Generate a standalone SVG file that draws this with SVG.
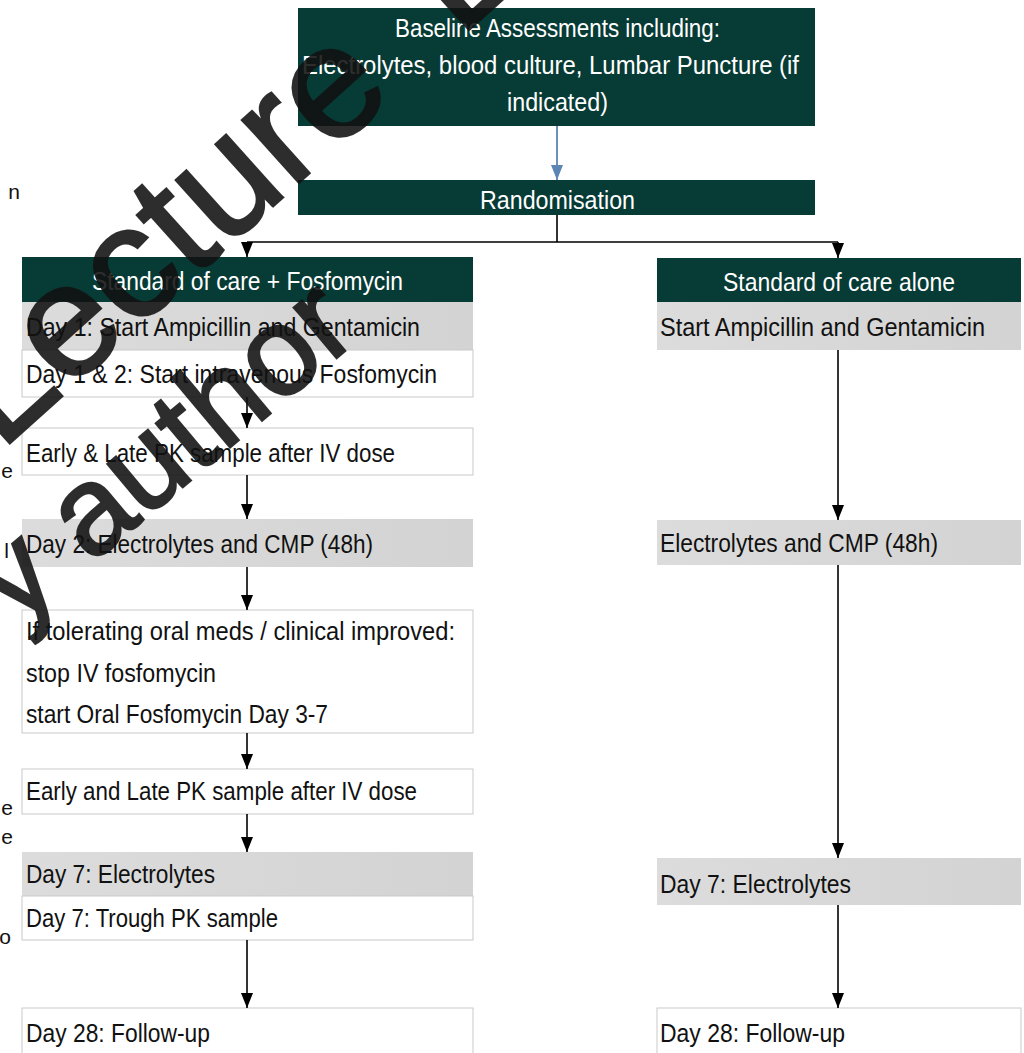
<svg xmlns="http://www.w3.org/2000/svg" width="1024" height="1053" viewBox="0 0 1024 1053">
<defs>
<style>
.dark{fill:#073b35;}
.grey{fill:url(#g);}
.white{fill:#ffffff;stroke:#c9c9c9;stroke-width:1;}
.t{font-family:"Liberation Sans",Arial,sans-serif;font-size:26px;fill:#111111;}
.tw{font-family:"Liberation Sans",Arial,sans-serif;font-size:26px;fill:#ffffff;}
.edge{font-family:"Liberation Sans",Arial,sans-serif;font-size:21px;fill:#111111;}
.conn{stroke:#000000;stroke-width:1.6;fill:none;}
.wm{font-family:"Liberation Sans",Arial,sans-serif;fill:#111111;stroke:#111111;stroke-width:2.5;opacity:0.88;}
</style>
<linearGradient id="g" x1="0" y1="0" x2="1" y2="0">
<stop offset="0" stop-color="#dcdcdc"/>
<stop offset="1" stop-color="#d3d3d3"/>
</linearGradient>
<marker id="arr" markerUnits="userSpaceOnUse" markerWidth="15" markerHeight="12" refX="15" refY="6" orient="auto" viewBox="0 0 15 12">
<path d="M0,0 L15,6 L0,12 Z" fill="#000000"/>
</marker>
<marker id="arrb" markerUnits="userSpaceOnUse" markerWidth="15" markerHeight="12" refX="15" refY="6" orient="auto" viewBox="0 0 15 12">
<path d="M0,0 L15,6 L0,12 Z" fill="#5b86b4"/>
</marker>
</defs>
<rect x="0" y="0" width="1024" height="1053" fill="#ffffff"/>

<g id="edge-fragments">
<text class="edge" x="20" y="199" text-anchor="end">n</text>
<text class="edge" x="13" y="478" text-anchor="end">e</text>
<text class="edge" x="9" y="558" text-anchor="end">l</text>
<text class="edge" x="13" y="815" text-anchor="end">e</text>
<text class="edge" x="13" y="844" text-anchor="end">e</text>
<text class="edge" x="11" y="944" text-anchor="end">o</text>
</g>

<g id="baseline">
<rect class="dark" x="298" y="8" width="517" height="118"/>
<text class="tw" x="395" y="37" textLength="325" lengthAdjust="spacingAndGlyphs">Baseline Assessments including:</text>
<text class="tw" x="302" y="74" textLength="497" lengthAdjust="spacingAndGlyphs">Electrolytes, blood culture, Lumbar Puncture (if</text>
<text class="tw" x="507" y="111" textLength="101" lengthAdjust="spacingAndGlyphs">indicated)</text>
</g>

<g id="randomisation">
<rect class="dark" x="298" y="180" width="517" height="35"/>
<text class="tw" x="480" y="209" textLength="155" lengthAdjust="spacingAndGlyphs">Randomisation</text>
</g>

<g id="left-header">
<rect class="dark" x="22" y="257" width="451" height="45"/>
<text class="tw" x="92" y="290" textLength="311" lengthAdjust="spacingAndGlyphs">Standard of care + Fosfomycin</text>
</g>
<g id="left-day1">
<rect class="grey" x="22" y="302" width="451" height="48"/>
<text class="t" x="26" y="336" textLength="394" lengthAdjust="spacingAndGlyphs">Day 1: Start Ampicillin and Gentamicin</text>
</g>
<g id="left-day12">
<rect class="white" x="22" y="350" width="451" height="47"/>
<text class="t" x="26" y="383" textLength="411" lengthAdjust="spacingAndGlyphs">Day 1 &amp; 2: Start intravenous Fosfomycin</text>
</g>
<g id="left-pk1">
<rect class="white" x="22" y="428" width="451" height="47"/>
<text class="t" x="26" y="462" textLength="369" lengthAdjust="spacingAndGlyphs">Early &amp; Late PK sample after IV dose</text>
</g>
<g id="left-day2">
<rect class="grey" x="22" y="519" width="451" height="48"/>
<text class="t" x="26" y="553" textLength="347" lengthAdjust="spacingAndGlyphs">Day 2: Electrolytes and CMP (48h)</text>
</g>
<g id="left-oral">
<rect class="white" x="22" y="610" width="451" height="123"/>
<text class="t" x="26" y="640" textLength="429" lengthAdjust="spacingAndGlyphs">If tolerating oral meds / clinical improved:</text>
<text class="t" x="26" y="682" textLength="190" lengthAdjust="spacingAndGlyphs">stop IV fosfomycin</text>
<text class="t" x="26" y="723" textLength="302" lengthAdjust="spacingAndGlyphs">start Oral Fosfomycin Day 3-7</text>
</g>
<g id="left-pk2">
<rect class="white" x="22" y="769" width="451" height="45"/>
<text class="t" x="26" y="800" textLength="391" lengthAdjust="spacingAndGlyphs">Early and Late PK sample after IV dose</text>
</g>
<g id="left-day7">
<rect class="grey" x="22" y="852" width="451" height="44"/>
<text class="t" x="26" y="883" textLength="189" lengthAdjust="spacingAndGlyphs">Day 7: Electrolytes</text>
</g>
<g id="left-trough">
<rect class="white" x="22" y="896" width="451" height="44"/>
<text class="t" x="26" y="927" textLength="252" lengthAdjust="spacingAndGlyphs">Day 7: Trough PK sample</text>
</g>
<g id="left-day28">
<rect class="white" x="22" y="1008" width="451" height="60"/>
<text class="t" x="26" y="1042" textLength="184" lengthAdjust="spacingAndGlyphs">Day 28: Follow-up</text>
</g>

<g id="right-header">
<rect class="dark" x="657" y="258" width="364" height="44"/>
<text class="tw" x="723" y="291" textLength="232" lengthAdjust="spacingAndGlyphs">Standard of care alone</text>
</g>
<g id="right-start">
<rect class="grey" x="657" y="302" width="364" height="48"/>
<text class="t" x="660" y="336" textLength="325" lengthAdjust="spacingAndGlyphs">Start Ampicillin and Gentamicin</text>
</g>
<g id="right-day2">
<rect class="grey" x="657" y="520" width="364" height="45"/>
<text class="t" x="660" y="552" textLength="278" lengthAdjust="spacingAndGlyphs">Electrolytes and CMP (48h)</text>
</g>
<g id="right-day7">
<rect class="grey" x="657" y="858" width="364" height="47"/>
<text class="t" x="660" y="893" textLength="191" lengthAdjust="spacingAndGlyphs">Day 7: Electrolytes</text>
</g>
<g id="right-day28">
<rect class="white" x="657" y="1008" width="364" height="60"/>
<text class="t" x="660" y="1042" textLength="185" lengthAdjust="spacingAndGlyphs">Day 28: Follow-up</text>
</g>

<g id="connectors">
<path d="M557,126 V180" stroke="#5b86b4" stroke-width="1.8" fill="none" marker-end="url(#arrb)"/>
<path class="conn" d="M557,215 V242 M247,242 H838"/>
<path class="conn" d="M247,242 V257" marker-end="url(#arr)"/>
<path class="conn" d="M838,242 V258" marker-end="url(#arr)"/>
<path class="conn" d="M247,397 V428" marker-end="url(#arr)"/>
<path class="conn" d="M247,475 V519" marker-end="url(#arr)"/>
<path class="conn" d="M247,567 V610" marker-end="url(#arr)"/>
<path class="conn" d="M247,733 V769" marker-end="url(#arr)"/>
<path class="conn" d="M247,814 V852" marker-end="url(#arr)"/>
<path class="conn" d="M247,940 V1008" marker-end="url(#arr)"/>
<path class="conn" d="M838,350 V520" marker-end="url(#arr)"/>
<path class="conn" d="M838,565 V858" marker-end="url(#arr)"/>
<path class="conn" d="M838,905 V1008" marker-end="url(#arr)"/>
</g>

<g id="watermark">
<text class="wm" font-size="160" word-spacing="40" transform="translate(0 452) rotate(-42)">Lecture Li</text>
<text class="wm" font-size="125" transform="translate(16 627) rotate(-40)">y author</text>
</g>
</svg>
